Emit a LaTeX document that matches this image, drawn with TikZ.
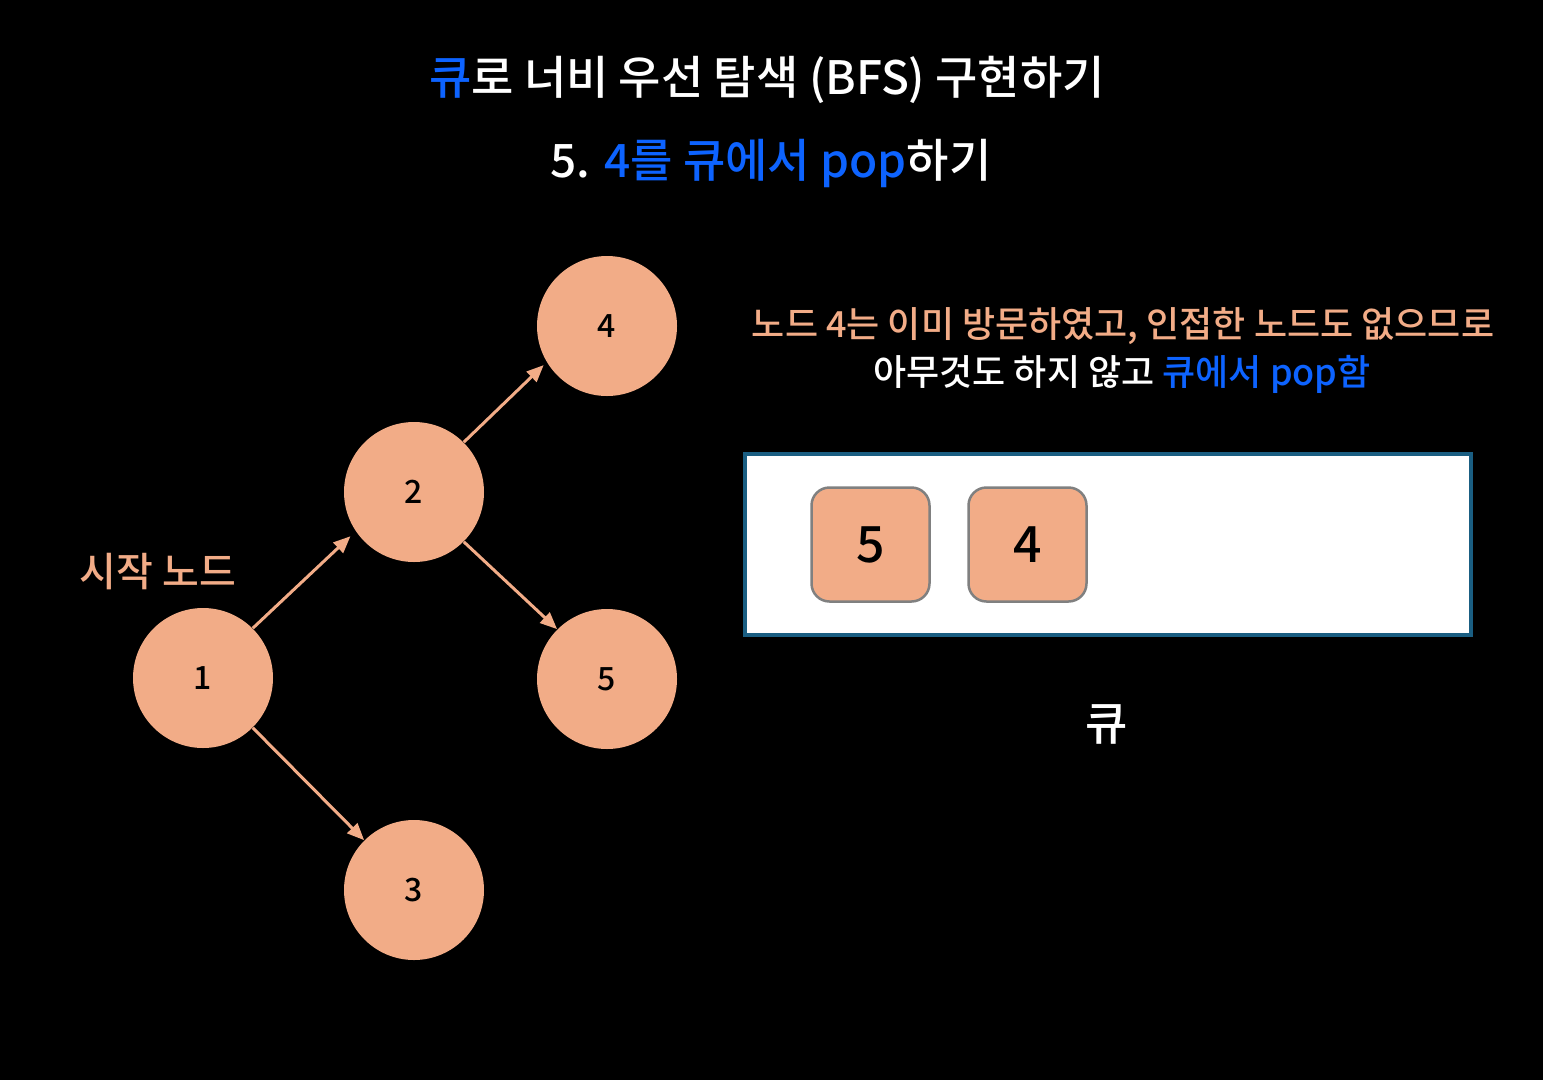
\documentclass[tikz,border=0pt]{standalone}
\usepackage{fontspec}
\setmainfont{Noto Sans CJK KR Medium}
\usetikzlibrary{arrows.meta}

\definecolor{salmon}{RGB}{242,172,135}
\definecolor{qblue}{RGB}{13,99,255}
\definecolor{qframe}{RGB}{26,94,130}

\tikzset{every picture/.style={line width=1pt}}
\tikzset{
  gnode/.style={circle,fill=salmon,minimum size=140pt,inner sep=0pt,font=\fontsize{32}{32}\selectfont},
  qitem/.style={rounded corners=18pt,draw={rgb,255:red,128;green,128;blue,128},line width=2.5pt,fill=salmon,minimum width=118pt,minimum height=114pt,inner sep=0pt,font=\fontsize{50}{50}\selectfont},
  link/.style={salmon,line width=3pt,-{Triangle[length=17pt,width=14pt]}},
}

\begin{document}
\begin{tikzpicture}[x=1pt,y=1pt,yscale=-1,xscale=1]
%set diagram size 1543 x 1080
\fill[black] (0,0) rectangle (1543,1080);
\useasboundingbox (0,0) rectangle (1543,1080);

% Text Node
\draw (767,80) node [inner sep=0pt,text=white,font=\fontsize{46}{46}\selectfont] (title) {\textcolor{qblue}{큐}로 너비 우선 탐색 (BFS) 구현하기};
% Text Node
\draw (771,163) node [inner sep=0pt,text=white,font=\fontsize{46}{46}\selectfont] (step) {5. \textcolor{qblue}{4를 큐에서 pop}하기};

%Shape: Circle
\draw (203,678) node [gnode] (n1) {1};
\draw (414,492) node [gnode] (n2) {2};
\draw (607,326) node [gnode] (n4) {4};
\draw (607,679) node [gnode] (n5) {5};
\draw (414,890) node [gnode] (n3) {3};

%Straight Lines
\draw [link,shorten >=7pt] (n1.45) -- (n2.214);
\draw [link,shorten >=4pt] (n2.45) -- (n4.211);
\draw [link] (n2.-45) -- (n5.135);
\draw [link] (n1.-45) -- (n3.135);

% Text Node
\draw (158,572) node [inner sep=0pt,text=salmon,font=\fontsize{40}{40}\selectfont] (start) {시작 노드};

% Text Node
\draw (1123,326) node [inner sep=0pt,text=salmon,font=\fontsize{36}{36}\selectfont] (note1) {노드 4는 이미 방문하였고, 인접한 노드도 없으므로};
\draw (1122,374) node [inner sep=0pt,text=white,font=\fontsize{36}{36}\selectfont] (note2) {아무것도 하지 않고 \textcolor{qblue}{큐에서 pop함}};

%Shape: Rectangle
\draw [draw=qframe,line width=4pt,fill=white] (745,454) rectangle (1471,635);
\draw (870.5,544.5) node [qitem] (q5) {5};
\draw (1027.5,544.5) node [qitem] (q4) {4};

% Text Node
\draw (1107,724) node [inner sep=0pt,text=white,font=\fontsize{46}{46}\selectfont] (qlabel) {큐};

\end{tikzpicture}
\end{document}
